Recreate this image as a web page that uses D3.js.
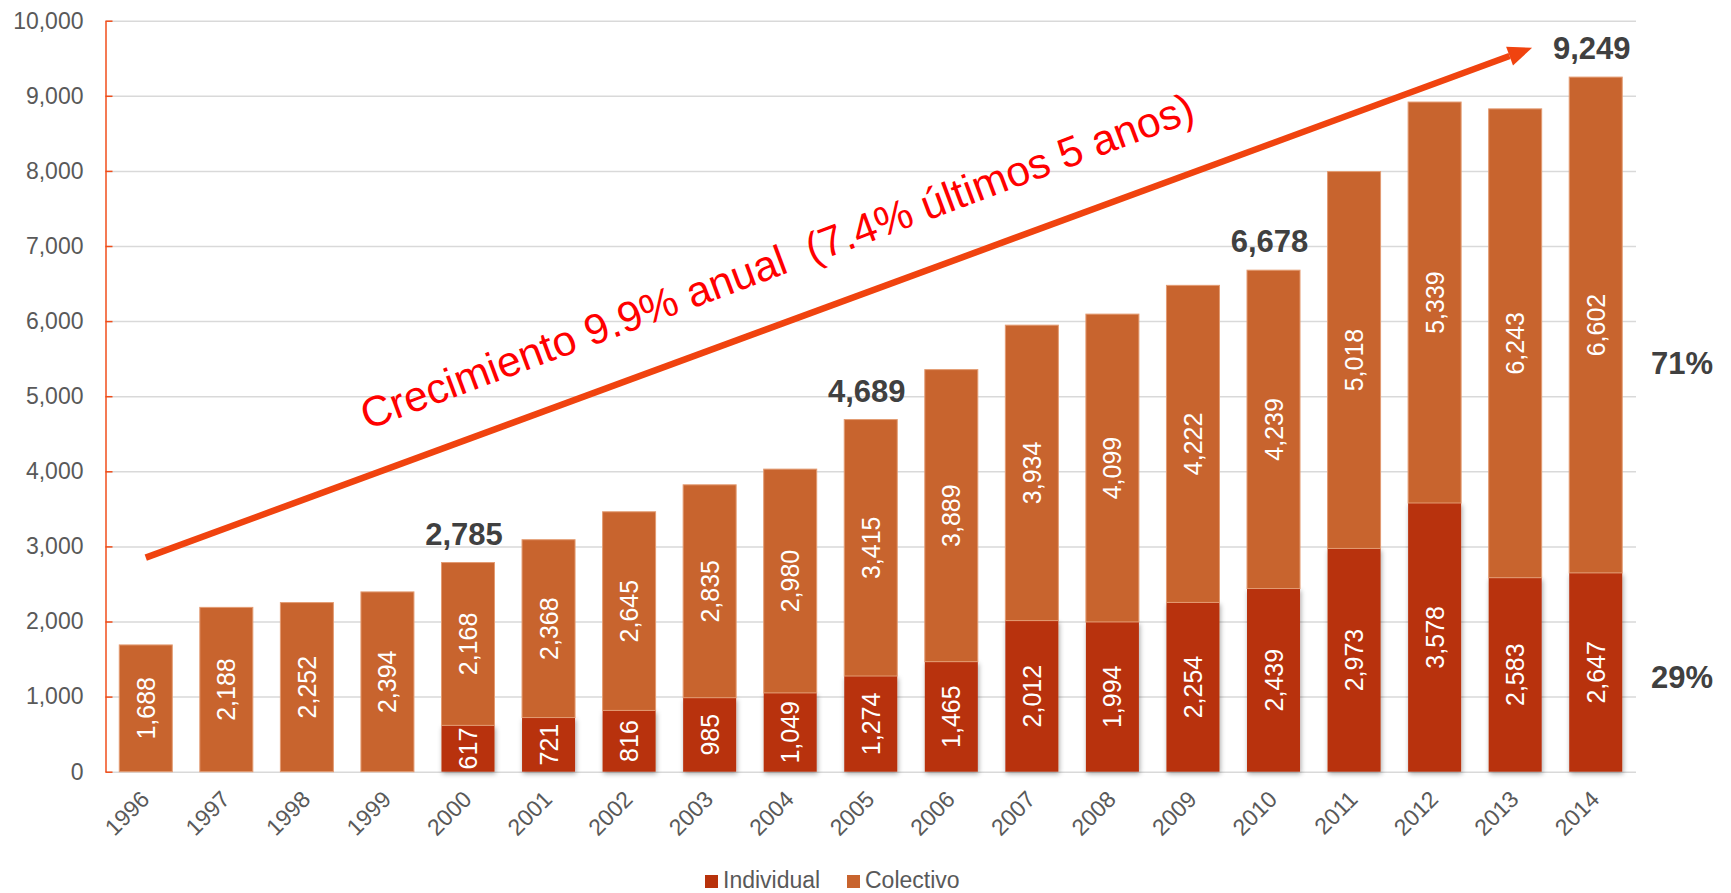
<!DOCTYPE html>
<html>
  <head>
    <meta charset="utf-8">
    <title>Crecimiento Individual / Colectivo</title>
    <script src="https://d3js.org/d3.v7.min.js"></script>
    <style>
      body { margin: 0; background: #fff; }
      text { font-family: "Liberation Sans", Arial, sans-serif; }
    </style>
  </head>
  <body>
    <div id="chart"></div>
    <script>
      // datos
      var years = ["1996", "1997", "1998", "1999", "2000", "2001", "2002", "2003", "2004", "2005",
                   "2006", "2007", "2008", "2009", "2010", "2011", "2012", "2013", "2014"];
      var individual = [null, null, null, null, 617, 721, 816, 985, 1049, 1274,
                        1465, 2012, 1994, 2254, 2439, 2973, 3578, 2583, 2647];
      var colectivo = [1688, 2188, 2252, 2394, 2168, 2368, 2645, 2835, 2980, 3415,
                       3889, 3934, 4099, 4222, 4239, 5018, 5339, 6243, 6602];
      var yTicks = [0, 1000, 2000, 3000, 4000, 5000, 6000, 7000, 8000, 9000, 10000];
      var totalYears = ["2000", "2005", "2010", "2014"];
      var seriesNames = ["Individual", "Colectivo"];
      var growthText = "Crecimiento 9.9% anual  (7.4% últimos 5 anos)";

      var colors = { Individual: "#b8320b", Colectivo: "#c8642e" };

      var W = 1731, H = 893;
      var x0 = 105.5, x1 = 1636, yTop = 20.7, yBottom = 771.7;

      var data = years.map(function (y, i) {
        return { year: y, Individual: individual[i] || 0, Colectivo: colectivo[i] };
      });

      var svg = d3.select("#chart").append("svg")
        .attr("width", W).attr("height", H);

      var defs = svg.append("defs");
      var f = defs.append("filter").attr("id", "shadow")
        .attr("x", "-20%").attr("y", "-20%").attr("width", "140%").attr("height", "140%");
      f.append("feDropShadow").attr("dx", 1).attr("dy", 2).attr("stdDeviation", 2.5)
        .attr("flood-color", "#000").attr("flood-opacity", 0.35);

      var xScale = d3.scaleBand().domain(years).range([x0, x1])
        .paddingInner(0.342).paddingOuter(0.171);
      var yScale = d3.scaleLinear().domain([0, 10000]).range([yBottom, yTop]);
      var step = xScale.step();
      var cx = function (y) { return xScale(y) + xScale.bandwidth() / 2; };

      // líneas de cuadrícula
      svg.append("g")
        .attr("transform", "translate(" + x0 + ",0)")
        .call(d3.axisRight(yScale).tickValues(yTicks).tickSize(x1 - x0).tickFormat(""))
        .call(function (g) {
          g.select(".domain").remove();
          g.selectAll("line").attr("stroke", "#d9d9d9").attr("stroke-width", 1.5);
        });

      // barras apiladas
      var stack = d3.stack().keys(seriesNames)(data);
      var layers = svg.append("g").selectAll("g")
        .data(stack).enter().append("g")
        .attr("fill", function (d) { return colors[d.key]; });

      layers.selectAll("rect")
        .data(function (d) { return d.map(function (p) { return { key: d.key, p: p }; }); })
        .enter().append("rect")
        .filter(function (d) { return d.p[1] - d.p[0] > 0; })
        .attr("x", function (d) { return xScale(d.p.data.year); })
        .attr("y", function (d) { return yScale(d.p[1]); })
        .attr("width", xScale.bandwidth())
        .attr("height", function (d) { return yScale(d.p[0]) - yScale(d.p[1]); })
        .attr("stroke", function (d) { return d.key == "Colectivo" ? "#e39b72" : "none"; })
        .attr("stroke-width", 1)
        .attr("filter", function (d) { return d.key == "Individual" ? "url(#shadow)" : null; });

      // valores dentro de las barras
      var fmt = d3.format(",");
      stack.forEach(function (layer) {
        svg.append("g").selectAll("text")
          .data(layer.filter(function (p) { return p[1] - p[0] > 0; }))
          .enter().append("text")
          .attr("transform", function (p) {
            return "translate(" + cx(p.data.year) + "," + yScale((p[0] + p[1]) / 2) + ") rotate(-90)";
          })
          .attr("text-anchor", "middle")
          .attr("dy", "0.36em")
          .attr("font-size", "25px")
          .attr("fill", "#fff")
          .text(function (p) { return fmt(p[1] - p[0]); });
      });

      // eje Y
      svg.append("g")
        .attr("transform", "translate(" + x0 + ",0)")
        .call(d3.axisLeft(yScale).tickValues(yTicks).tickFormat(fmt)
          .tickSizeInner(-7).tickSizeOuter(0).tickPadding(22))
        .call(function (g) {
          g.select(".domain").attr("stroke", "#f04e1b").attr("stroke-width", 1.5);
          g.selectAll("line").attr("stroke", "#f04e1b").attr("stroke-width", 1.5);
          g.selectAll("text").attr("font-size", "23px").attr("fill", "#595959");
        });

      // eje X
      svg.append("g")
        .attr("transform", "translate(0," + yBottom + ")")
        .call(d3.axisBottom(xScale).tickSize(0))
        .call(function (g) {
          g.select(".domain").remove();
          g.selectAll("text")
            .attr("font-size", "23px").attr("fill", "#595959")
            .attr("text-anchor", "end")
            .attr("y", 0).attr("dy", 0)
            .attr("transform", "translate(5,29) rotate(-45)");
        });

      // totales
      svg.append("g").selectAll("text")
        .data(data.filter(function (d) { return totalYears.indexOf(d.year) >= 0; }))
        .enter().append("text")
        .attr("x", function (d) { return cx(d.year) - 4; })
        .attr("y", function (d) { return yScale(d.Individual + d.Colectivo) - 18; })
        .attr("text-anchor", "middle")
        .attr("font-size", "31px").attr("font-weight", "bold").attr("fill", "#404040")
        .text(function (d) { return fmt(d.Individual + d.Colectivo); });

      // participación 2014
      var last = data[data.length - 1];
      var lastTotal = last.Individual + last.Colectivo;
      var shares = [
        { v: Math.round(last.Colectivo / lastTotal * 100), at: 5300 },
        { v: Math.round(last.Individual / lastTotal * 100), at: 1120 }
      ];
      svg.append("g").selectAll("text")
        .data(shares).enter().append("text")
        .attr("x", x1 + 15)
        .attr("y", function (d) { return yScale(d.at); })
        .attr("font-size", "31px").attr("font-weight", "bold").attr("fill", "#404040")
        .text(function (d) { return d.v + "%"; });

      // flecha de crecimiento
      var arrowFrom = { year: "1996", shift: 0, value: 2850 };
      var arrowTo = { year: "2013", shift: 0.21, value: 9640 };
      var ax1 = cx(arrowFrom.year) + arrowFrom.shift * step, ay1 = yScale(arrowFrom.value);
      var ax2 = cx(arrowTo.year) + arrowTo.shift * step, ay2 = yScale(arrowTo.value);
      var ang = Math.atan2(ay2 - ay1, ax2 - ax1);
      var headLen = 24, headW = 10;
      var bx = ax2 - headLen * Math.cos(ang), by = ay2 - headLen * Math.sin(ang);
      svg.append("line")
        .attr("x1", ax1).attr("y1", ay1).attr("x2", bx).attr("y2", by)
        .attr("stroke", "#f0430f").attr("stroke-width", 6.5);
      svg.append("path")
        .attr("d", "M" + ax2 + "," + ay2 +
          "L" + (bx + headW * Math.sin(ang)) + "," + (by - headW * Math.cos(ang)) +
          "L" + (bx - headW * Math.sin(ang)) + "," + (by + headW * Math.cos(ang)) + "Z")
        .attr("fill", "#f0430f");

      var textAt = { year: "1999", shift: -0.25, value: 4550 };
      svg.append("text")
        .attr("transform", "translate(" + (cx(textAt.year) + textAt.shift * step) + "," +
          yScale(textAt.value) + ") rotate(" + (ang * 180 / Math.PI - 0.3) + ")")
        .attr("font-size", "42.5px").attr("fill", "#ff0000")
        .style("white-space", "pre")
        .text(growthText);

      // leyenda
      var legend = svg.append("g").attr("transform", "translate(705,875)");
      var legendX = [0, 142];
      var items = legend.selectAll("g").data(seriesNames).enter().append("g")
        .attr("transform", function (d, i) { return "translate(" + legendX[i] + ",0)"; });
      items.append("rect").attr("width", 13).attr("height", 13)
        .attr("fill", function (d) { return colors[d]; });
      items.append("text").attr("x", 18).attr("y", 13)
        .attr("font-size", "23px").attr("fill", "#595959")
        .text(function (d) { return d; });
    </script>
  </body>
</html>
